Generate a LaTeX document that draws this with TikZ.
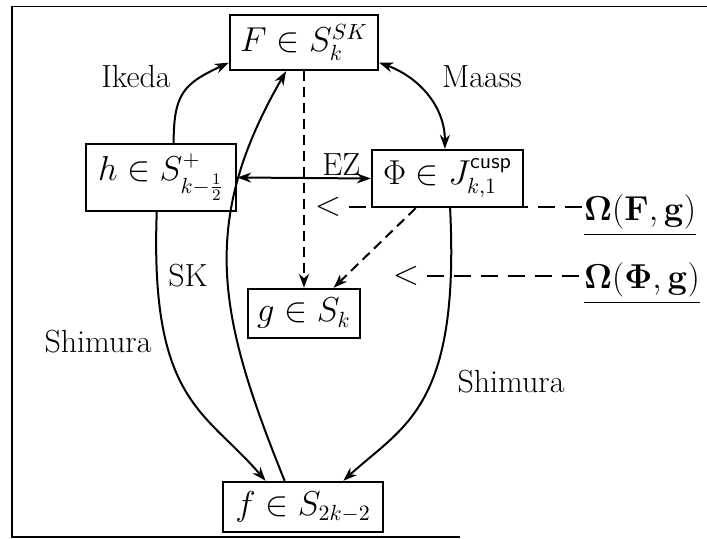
\documentclass[tikz,border=0pt]{standalone}
\usepackage{amsmath}
\usetikzlibrary{arrows.meta, positioning}
\tikzset{
  every picture/.style={line width=1pt},
  box/.style={draw, line width=1.2pt, inner sep=4pt},
  arrow/.style={-{Stealth[length=7pt, width=5pt]}},
  twoway/.style={{Stealth[length=7pt, width=5pt]}-{Stealth[length=7pt, width=5pt]}},
  lift/.style={arrow, dash pattern=on 5pt off 3pt},
  pairing/.style={dash pattern=on 8.5pt off 5pt},
  frame/.style={line width=0.8pt},
}
\begin{document}
\begin{tikzpicture}[x=0.5pt, y=0.5pt, every node/.append style={font=\fontsize{16}{19}\selectfont}]
  \useasboundingbox (0,0) rectangle (707,-539);
  \draw[frame] (707,-6.5) -- (12,-6.5) -- (12,-537) -- (460,-537);
  % spaces of modular forms
  \node[box, minimum width=74pt, minimum height=27.5pt] (F) at (304,-42.5) {$F\in S_k^{SK}$};
  \node[box, minimum width=75pt, minimum height=33.5pt] (h) at (161,-177.5) {$h\in S^{+}_{k-\frac{1}{2}}$};
  \node[box, minimum width=75.5pt, minimum height=28.5pt] (Phi) at (447.5,-178.5) {$\Phi\in J^{\mathsf{cusp}}_{k,1}$};
  \node[box, minimum width=56pt, minimum height=24.5pt] (g) at (304,-313.5) {$g\in S_k$};
  \node[box, minimum width=80pt, minimum height=25pt] (f) at (303,-507) {$f\in S_{2k-2}$};
  % names of the lifts
  \node (ikeda) at (136,-77) {Ikeda};
  \node (maass) at (482,-77) {Maass};
  \node (sk) at (188,-276) {SK};
  \node (shimL) at (98,-342) {Shimura};
  \node (shimR) at (511,-382) {Shimura};
  % periods
  \node[anchor=base west, inner sep=0pt] (OFg) at (583,-221) {$\underline{\mathbf{\Omega(F,g)}}$};
  \node[anchor=base west, inner sep=0pt] (OPg) at (583,-289) {$\underline{\mathbf{\Omega(\Phi,g)}}$};
  \node (lt1) at (328,-207) {$<$};
  \node (lt2) at (406,-276) {$<$};
  % lifts
  \draw[arrow] (h.70) to[out=90, in=205, looseness=1.3] (F.195);
  \draw[twoway] (F.-15) to[out=-20, in=90] (Phi.95);
  \draw[twoway] (h.east) -- node[above, inner sep=1pt, pos=0.78] (ez) {EZ} (Phi.west);
  \draw[arrow] (f.125) to[out=112, in=240, looseness=1.1] (F.238);
  \draw[arrow] (h.263) .. controls +(-7,-190) and +(-60,70) .. (f.145);
  \draw[arrow] (Phi.-85) .. controls +(10,-200) and +(60,55) .. (f.33);
  \draw[lift] (F.south) -- (g.north);
  \draw[lift] (Phi.223) -- (g.41);
  \draw[pairing] (lt1.east) -- (lt1.east -| OFg.west);
  \draw[pairing] (lt2.east) -- (lt2.east -| OPg.west);
\end{tikzpicture}
\end{document}
